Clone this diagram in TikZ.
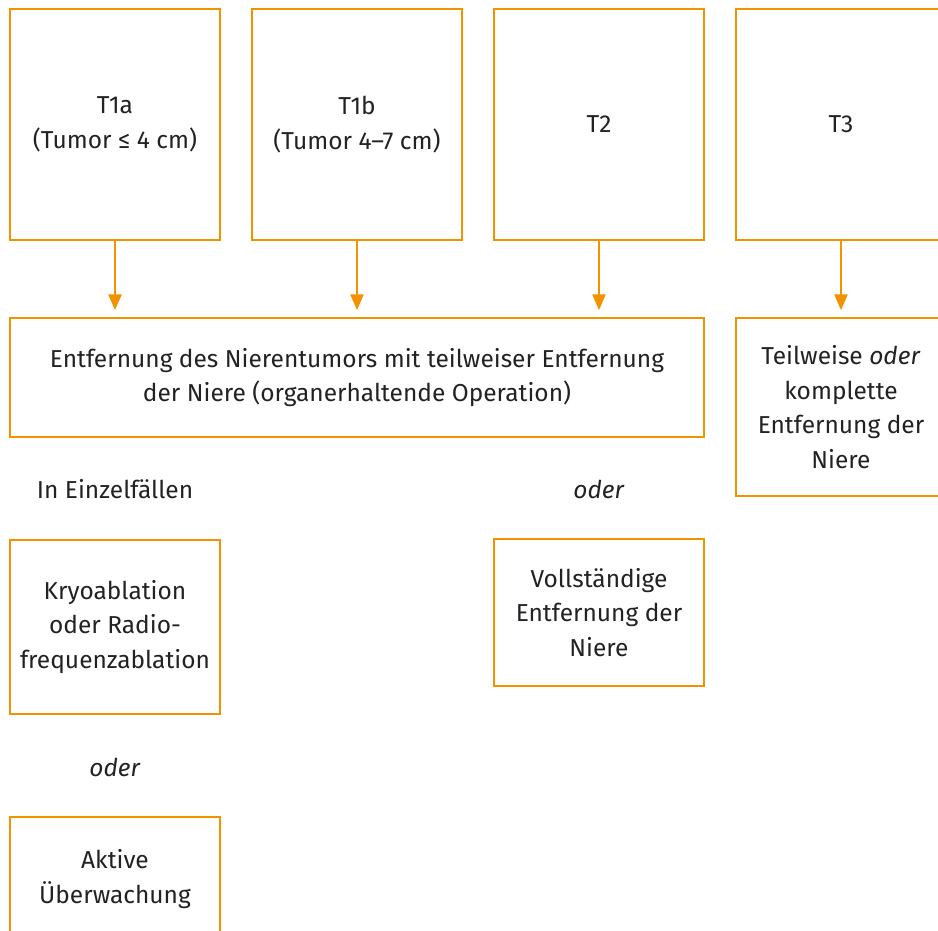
\documentclass[tikz,border=0pt]{standalone}
\usepackage{fontspec}
\setmainfont{Fira Sans}
\usetikzlibrary{arrows.meta}
\definecolor{niereorange}{HTML}{F39200}
\definecolor{textgrey}{HTML}{222222}

\begin{document}
\begin{tikzpicture}[x=1pt,y=-1pt,
   box/.style={draw=niereorange,line width=1.5pt,align=center,text=textgrey,
               inner sep=0pt,font=\fontsize{24.5}{34.5}\selectfont},
   lbl/.style={text=textgrey,font=\fontsize{24.5}{34.5}\selectfont},
   pfeil/.style={niereorange,line width=2.8pt,-{Triangle[length=16pt,width=13pt]},shorten >=7pt}]
   \useasboundingbox (0,0) rectangle (938,931);
   \clip (0,0) rectangle (938,931);
   % Stadien
   \node[box,minimum width=210pt,minimum height=231pt] (t1a) at (115,124.5) {T1a\\(Tumor ≤ 4 cm)};
   \node[box,minimum width=210pt,minimum height=231pt] (t1b) at (357,124.5) {T1b\\(Tumor 4–7 cm)};
   \node[box,minimum width=210pt,minimum height=231pt] (t2)  at (599,124.5) {T2};
   \node[box,minimum width=210pt,minimum height=231pt] (t3)  at (841,124.5) {T3};
   % Behandlung
   \node[box,minimum width=694pt,minimum height=119pt] (op) at (357,377.5)
      {Entfernung des Nierentumors mit teilweiser Entfernung\\der Niere (organerhaltende Operation)};
   \node[box,minimum width=210pt,minimum height=178pt] (nx) at (841,407)
      {Teilweise \emph{oder}\\komplette\\Entfernung der\\Niere};
   \node[lbl] (einzel) at (115,489) {In Einzelfällen};
   \node[lbl] (oder1)  at (599,489) {\emph{oder}};
   \node[box,minimum width=210pt,minimum height=174pt] (kryo) at (115,627)
      {Kryoablation\\oder Radio-\\frequenzablation};
   \node[box,minimum width=210pt,minimum height=147pt] (voll) at (599,612.5)
      {Vollständige\\Entfernung der\\Niere};
   \node[lbl] (oder2) at (115,767) {\emph{oder}};
   \node[box,minimum width=210pt,minimum height=124pt] (aktiv) at (115,879)
      {Aktive\\Überwachung};
   % Pfeile
   \draw[pfeil] (t1a.south) -- (t1a.south |- op.north);
   \draw[pfeil] (t1b.south) -- (t1b.south |- op.north);
   \draw[pfeil] (t2.south) -- (t2.south |- op.north);
   \draw[pfeil] (t3.south) -- (nx.north);
\end{tikzpicture}
\end{document}
